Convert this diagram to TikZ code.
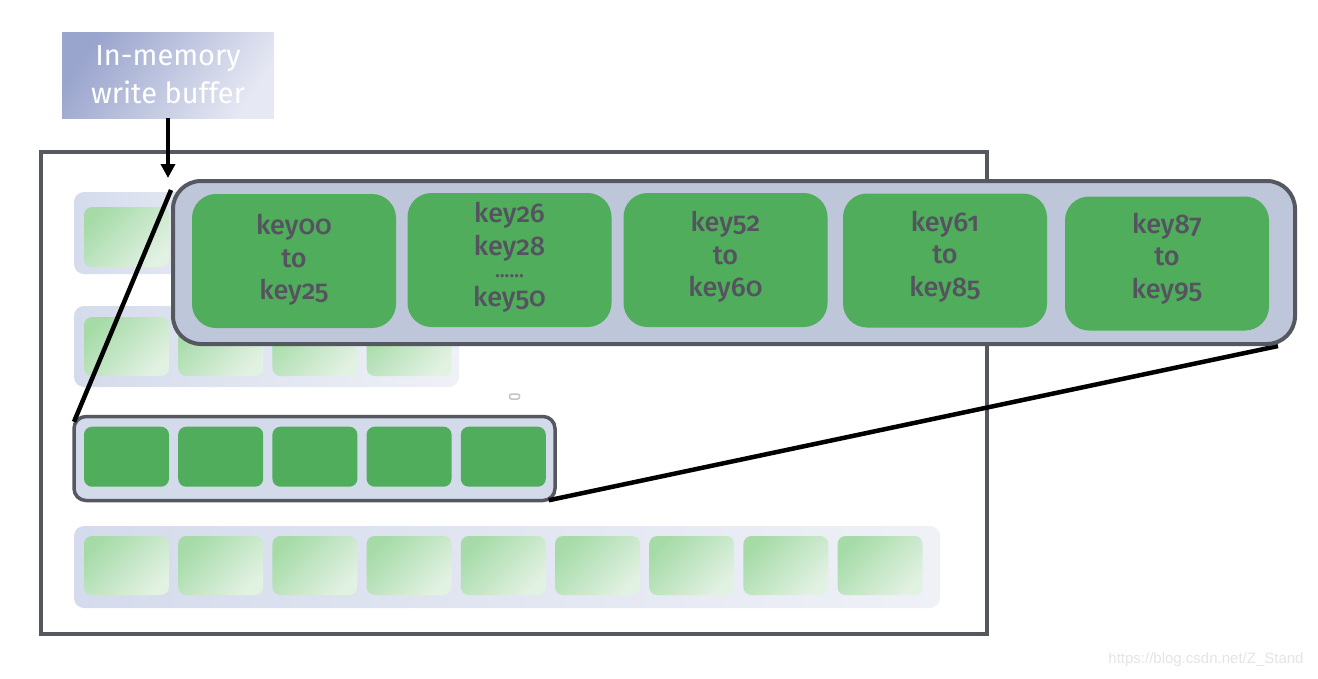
\documentclass[tikz,border=0pt]{standalone}
\usepackage{fontspec}
\setmainfont{Fira Sans}
\newfontfamily\keyfont[Numbers=OldStyle, UprightFont=* Medium]{Fira Sans}
\newfontfamily\buffont{Fira Sans}
\newfontfamily\wmfont{Liberation Sans}
\usetikzlibrary{arrows.meta,calc}
\definecolor{framegray}{HTML}{55585F}
\definecolor{keygreen}{HTML}{4FAD5B}
\definecolor{zoomfill}{HTML}{BEC7D9}
\definecolor{rowfill}{HTML}{D3DBEB}
\definecolor{textgray}{HTML}{55535F}
\definecolor{rowL}{HTML}{D4DBEC}
\definecolor{rowR}{HTML}{EFF1F7}
\definecolor{lgA}{HTML}{A6DBA8}
\definecolor{lgB}{HTML}{E1F1E2}
\definecolor{bufA}{HTML}{9AA5CD}
\definecolor{bufB}{HTML}{E6E8F3}
\definecolor{wmgray}{HTML}{E4E4E4}
\definecolor{tinygray}{HTML}{C4C4C4}
\tikzset{
  rowbg/.style={rectangle, rounded corners=10pt, left color=rowL, right color=rowR, draw=none, inner sep=0pt},
  lightkey/.style={rectangle, rounded corners=8pt, minimum width=85pt, minimum height=59pt, top color=lgA, bottom color=lgB, shading angle=45, draw=none, inner sep=0pt},
  darkkey/.style={rectangle, rounded corners=8pt, minimum width=85pt, minimum height=60pt, fill=keygreen, draw=none, inner sep=0pt},
  bigkey/.style={rectangle, rounded corners=24pt, minimum width=204pt, minimum height=134pt, fill=keygreen, draw=none, inner sep=0pt},
  keytext/.style={text=textgray, align=center, font=\keyfont\fontsize{27}{32.5}\selectfont, inner sep=0pt},
  zoomline/.style={line width=4.5pt, black},
}
\begin{document}
\begin{tikzpicture}[x=1pt,y=-1pt]
\useasboundingbox (0,0) rectangle (1318,678);
% outer frame
\node[rectangle, draw=framegray, line width=3.5pt, minimum width=946pt, minimum height=482pt, inner sep=0pt] (frame) at (514,393) {};
% buffer
\node[rectangle, top color=bufA, bottom color=bufB, shading angle=55, minimum width=212pt, minimum height=86pt, inner sep=0pt, text=white, align=center, font=\buffont\fontsize{29}{38}\selectfont] (buffer) at (168,75) {In-memory\\write buffer};
\coordinate (arrowtip) at (168,178);
\draw[line width=3.5pt, -{Triangle[length=14pt,width=14pt]}] (buffer.south) -- (arrowtip);
% row 1
\node[rowbg, minimum width=198pt, minimum height=82pt] (row1) at (173,233) {};
\node[lightkey, minimum height=60pt] (r1k1) at (126.5,237) {};
\node[lightkey, minimum height=60pt] (r1k2) at (220.5,237) {};
% row 2
\node[rowbg, minimum width=385pt, minimum height=81pt] (row2) at (266.5,346.5) {};
\foreach \i in {0,...,3} {
  \node[lightkey] (r2k\i) at ({126.5+94.2*\i},346.5) {};
}
% tiny mark
\node[rectangle, rounded corners=2pt, draw=tinygray, line width=1.5pt, fill=white, minimum width=10pt, minimum height=5pt, inner sep=0pt] (tiny) at (514.5,396.5) {};
% row 3 highlighted
\node[rectangle, rounded corners=12pt, draw=framegray, line width=3.5pt, fill=rowfill, minimum width=481pt, minimum height=84pt, inner sep=0pt] (row3) at (314.5,458.5) {};
\foreach \i in {0,...,4} {
  \node[darkkey] (r3k\i) at ({126.5+94.2*\i},456.7) {};
}
% row 4
\node[rowbg, minimum width=866pt, minimum height=82pt] (row4) at (507,567) {};
\foreach \i in {0,...,8} {
  \node[lightkey] (r4k\i) at ({126.5+94.2*\i},565.5) {};
}
% zoom box (placed first as a node so the lines can refer to it)
\node[rectangle, rounded corners=28pt, minimum width=1122pt, minimum height=163pt, inner sep=0pt, line width=4pt] (zoom) at (734,262.5) {};
% zoom lines
\draw[zoomline] ($(row3.north west)+(1.75,7)$) -- ($(zoom.north west)+(0,11)$);
\draw[zoomline] ($(row3.south east)+(-8,-2)$) -- ($(zoom.south east)+(-19,0)$);
% zoom box drawn
\draw[rounded corners=28pt, draw=framegray, line width=4pt, fill=zoomfill] ($(zoom.north west)+(2,2)$) rectangle ($(zoom.south east)+(-2,-2)$);
\node[bigkey] (k1) at (294,261) {};
\node[bigkey] (k2) at (509.5,260) {};
\node[bigkey] (k3) at (725.5,260) {};
\node[bigkey] (k4) at (945,260.5) {};
\node[bigkey] (k5) at (1167,263.5) {};
\node[keytext] (t1) at (294,260) {key00\\to\\key25};
\node[keytext] (t2) at (509.5,257) {key26\\key28\\[-10pt]{\fontsize{20}{20}\selectfont ......}\\[-4pt]key50};
\node[keytext] (t3) at (725.5,257) {key52\\to\\key60};
\node[keytext] (t4) at (945,256.5) {key61\\to\\key85};
\node[keytext] (t5) at (1167,258.5) {key87\\to\\key95};
% watermark
\node[text=wmgray, font=\wmfont\fontsize{15}{15}\selectfont, inner sep=0pt] (wm) at (1206,660) {https://blog.csdn.net/Z\_Stand};
\end{tikzpicture}
\end{document}
